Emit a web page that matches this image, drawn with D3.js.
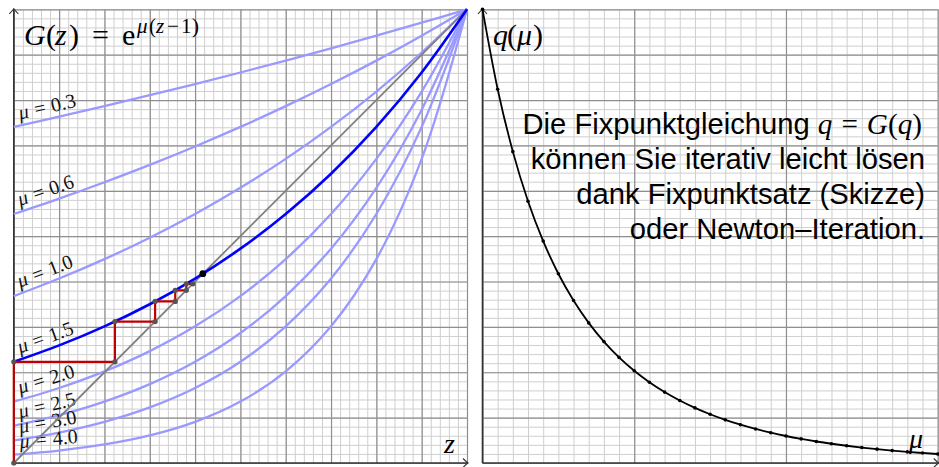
<!DOCTYPE html>
<html><head><meta charset="utf-8">
<script src="https://cdn.jsdelivr.net/npm/d3@7"></script>
<style>body{margin:0;background:#fff}svg{display:block}</style>
</head><body>
<svg id="c" width="939" height="467"></svg>
<script>
// ---------- data ----------
const zSamples = [0,0.1,0.2,0.3,0.4,0.5,0.6,0.7,0.8,0.9,1.0];
const muValues = [0.3,0.6,1.0,1.5,2.0,2.5,3.0,4.0];
const muLabels = ["0.3","0.6","1.0","1.5","2.0","2.5","3.0","4.0"];
const G_mu03 = [0.7408,0.7634,0.7866,0.8106,0.8353,0.8607,0.8869,0.9139,0.9418,0.9704,1];
const G_mu06 = [0.5488,0.5827,0.6188,0.6570,0.6977,0.7408,0.7866,0.8353,0.8869,0.9418,1];
const G_mu10 = [0.3679,0.4066,0.4493,0.4966,0.5488,0.6065,0.6703,0.7408,0.8187,0.9048,1];
const G_mu15 = [0.2231,0.2592,0.3012,0.3499,0.4066,0.4724,0.5488,0.6376,0.7408,0.8607,1];
const G_mu20 = [0.1353,0.1653,0.2019,0.2466,0.3012,0.3679,0.4493,0.5488,0.6703,0.8187,1];
const G_mu25 = [0.0821,0.1054,0.1353,0.1738,0.2231,0.2865,0.3679,0.4724,0.6065,0.7788,1];
const G_mu30 = [0.0498,0.0672,0.0907,0.1225,0.1653,0.2231,0.3012,0.4066,0.5488,0.7408,1];
const G_mu40 = [0.0183,0.0273,0.0408,0.0608,0.0907,0.1353,0.2019,0.3012,0.4493,0.6703,1];
const curveSeries = [G_mu03,G_mu06,G_mu10,G_mu15,G_mu20,G_mu25,G_mu30,G_mu40];
const highlightIndex = 3; // mu = 1.5
const cobweb = [0,0.2231,0.3118,0.3562,0.3807,0.3950];
const fixedPoint = 0.4172;
const muGrid = [1.0,1.1,1.2,1.3,1.4,1.5,1.6,1.7,1.8,1.9,2.0,2.1,2.2,2.3,2.4,2.5,2.6,2.7,2.8,2.9,3.0,3.1,3.2,3.3,3.4,3.5,3.6,3.7,3.8,3.9,4.0];
const qValues = [1.0,0.8239,0.6863,0.5770,0.4891,0.4172,0.3581,0.3088,0.2676,0.2328,0.2032,0.1780,0.1563,0.1376,0.1214,0.1074,0.0951,0.0844,0.0750,0.0668,0.0595,0.0531,0.0474,0.0424,0.0380,0.0340,0.0305,0.0273,0.0245,0.0221,0.0198];
const zMinorTicks = d3.range(0,51).map(i=>i/50);
const zMajorTicks = d3.range(0,11).map(i=>i/10);
const muMinorTicks = d3.range(0,31).map(i=>1+i/10);
const muMajorTicks = [1,2,3,4];
const noteLines = ["können Sie iterativ leicht lösen","dank Fixpunktsatz (Skizze)","oder Newton–Iteration."];

// ---------- layout ----------
const svg = d3.select("#c");
const X0=13.8, X1=467, Y0=463, Y1=9.3, RX0=482.5, RX1=937.7;
const xL = d3.scaleLinear().domain([0,1]).range([X0,X1]);
const yS = d3.scaleLinear().domain([0,1]).range([Y0,Y1]);
const xR = d3.scaleLinear().domain([1,4]).range([RX0,RX1]);
const MINOR="#cfcfcf", MAJOR="#8f8f8f";
const SERIF="'Liberation Serif','Times New Roman',serif";
const SANS="'Liberation Sans',Arial,Helvetica,sans-serif";

function vgrid(scale, values, color, w){
  svg.append("g").attr("transform",`translate(0,${Y0})`)
    .call(d3.axisBottom(scale).tickValues(values).tickSize(-(Y0-Y1)).tickFormat(""))
    .call(g=>g.select(".domain").remove())
    .selectAll("line").attr("stroke",color).attr("stroke-width",w);
}
function hgrid(xscale, values, color, w){
  const r = xscale.range();
  svg.append("g").attr("transform",`translate(${r[0]},0)`)
    .call(d3.axisLeft(yS).tickValues(values).tickSize(-(r[1]-r[0])).tickFormat(""))
    .call(g=>g.select(".domain").remove())
    .selectAll("line").attr("stroke",color).attr("stroke-width",w);
}
// left grid
vgrid(xL, zMinorTicks, MINOR, 1);
hgrid(xL, zMinorTicks, MINOR, 1);
vgrid(xL, zMajorTicks, MAJOR, 1.2);
hgrid(xL, zMajorTicks, MAJOR, 1.2);
// right grid
vgrid(xR, muMinorTicks, MINOR, 1);
hgrid(xR, zMinorTicks, MINOR, 1);
vgrid(xR, muMajorTicks, MAJOR, 1.2);
hgrid(xR, zMajorTicks, MAJOR, 1.2);

// axes with arrows
function axes(xscale){
  const r = xscale.range();
  const g = svg.append("g").attr("stroke","#333").attr("fill","none").attr("stroke-width",1.6);
  g.append("line").attr("x1",r[0]).attr("x2",r[1]+1).attr("y1",Y0).attr("y2",Y0);
  g.append("line").attr("x1",r[0]).attr("x2",r[0]).attr("y1",Y0).attr("y2",Y1-0.5);
  const tx=r[0], ty=Y1-0.5;
  g.append("path").attr("stroke-width",1.1).attr("d",`M${tx-4.5},${ty+5} Q${tx-1},${ty+1.5} ${tx},${ty} Q${tx+1},${ty+1.5} ${tx+4.5},${ty+5}`);
  const ax=r[1]+1, ay=Y0;
  g.append("path").attr("stroke-width",1.1).attr("d",`M${ax-5},${ay-4.5} Q${ax-1.5},${ay-1} ${ax},${ay} Q${ax-1.5},${ay+1} ${ax-5},${ay+4.5}`);
}
axes(xL); axes(xR);

// light curves
const line = d3.line().x((d,i)=>xL(zSamples[i])).y(d=>yS(d)).curve(d3.curveCatmullRom.alpha(0.5));
curveSeries.forEach((s,k)=>{
  if(k===highlightIndex) return;
  svg.append("path").attr("d",line(s)).attr("fill","none").attr("stroke","#9999ff").attr("stroke-width",2.3);
});

// labels
const pxPerUnit = (Y0-Y1)/(X1-X0);
curveSeries.forEach((s,k)=>{
  const slope = (s[1]-s[0])/(zSamples[1]-zSamples[0]);
  const ang = Math.atan(slope*pxPerUnit)*180/Math.PI;
  const lx = 20, z = xL.invert(lx);
  const ly = yS(s[0]+slope*z) - 6;
  const t = svg.append("text").attr("font-family",SERIF).attr("font-size",20).attr("fill","#111")
    .attr("transform",`translate(${lx},${ly}) rotate(${-ang})`);
  t.append("tspan").attr("font-style","italic").text("μ");
  t.append("tspan").attr("dx",6).text("=");
  t.append("tspan").attr("dx",6).text(muLabels[k]);
});

// diagonal
svg.append("path").attr("d",d3.line().x(d=>xL(d)).y(d=>yS(d))([0,1]))
  .attr("stroke","#808080").attr("stroke-width",1.8).attr("fill","none");
// highlighted curve
svg.append("path").attr("d",line(curveSeries[highlightIndex])).attr("fill","none").attr("stroke","#0000ff").attr("stroke-width",2.6);

// cobweb
const pts=[[cobweb[0],0]];
for(let i=0;i<cobweb.length-1;i++){ pts.push([cobweb[i],cobweb[i+1]]); pts.push([cobweb[i+1],cobweb[i+1]]); }
svg.append("path").attr("d",d3.line().x(d=>xL(d[0])).y(d=>yS(d[1]))(pts))
  .attr("fill","none").attr("stroke","#c00000").attr("stroke-width",2.2);
svg.selectAll(".cw").data(pts).join("circle").attr("cx",d=>xL(d[0])).attr("cy",d=>yS(d[1])).attr("r",2.6).attr("fill","#555");
svg.append("circle").attr("cx",xL(fixedPoint)).attr("cy",yS(fixedPoint)).attr("r",3.4).attr("fill","#000");

// right curve
svg.append("path").attr("d",d3.line().x((d,i)=>xR(muGrid[i])).y(d=>yS(d)).curve(d3.curveMonotoneX)(qValues))
  .attr("fill","none").attr("stroke","#000").attr("stroke-width",1.8);
svg.selectAll(".qd").data(qValues).join("circle").attr("cx",(d,i)=>xR(muGrid[i])).attr("cy",d=>yS(d)).attr("r",1.8).attr("fill","#000");

// title G(z) = e^{mu(z-1)}
function mt(x,y,size,italic,str){
  return svg.append("text").attr("x",x).attr("y",y).attr("font-family",SERIF).attr("font-size",size)
    .attr("font-style",italic?"italic":"normal").attr("fill","#000").text(str);
}
mt(24,45,30,true,"G"); mt(46,45,30,false,"("); mt(55,45,30,true,"z"); mt(69,45,30,false,")");
mt(92,45,30,false,"="); mt(122,45,30,false,"e");
mt(137,33,21,true,"μ"); mt(149,33,21,false,"("); mt(156,33,21,true,"z"); mt(167,33,21,false,"−"); mt(181,33,21,false,"1"); mt(192,33,21,false,")");
// q(mu)
mt(493,45,30,true,"q"); mt(507,45,30,false,"("); mt(517,45,30,true,"μ"); mt(533,45,30,false,")");
// axis labels
mt(444,453,28,true,"z");
mt(909,448,28,true,"μ");

// annotation
const RX=925;
const FS=29.2;
const t1 = svg.append("text").attr("x",RX-3).attr("y",134).attr("text-anchor","end").attr("font-size",FS).attr("fill","#000");
t1.append("tspan").attr("font-family",SANS).text("Die Fixpunktgleichung ");
t1.append("tspan").attr("font-family",SERIF).attr("font-style","italic").text("q");
t1.append("tspan").attr("font-family",SERIF).attr("dx",9).text("=");
t1.append("tspan").attr("font-family",SERIF).attr("font-style","italic").attr("dx",9).text("G");
t1.append("tspan").attr("font-family",SERIF).text("(");
t1.append("tspan").attr("font-family",SERIF).attr("font-style","italic").text("q");
t1.append("tspan").attr("font-family",SERIF).text(")");
noteLines.forEach((s,i)=>{
  svg.append("text").attr("x",RX).attr("y",169+35*i).attr("text-anchor","end")
    .attr("font-family",SANS).attr("font-size",FS).attr("fill","#000").text(s);
});
</script>
</body></html>
